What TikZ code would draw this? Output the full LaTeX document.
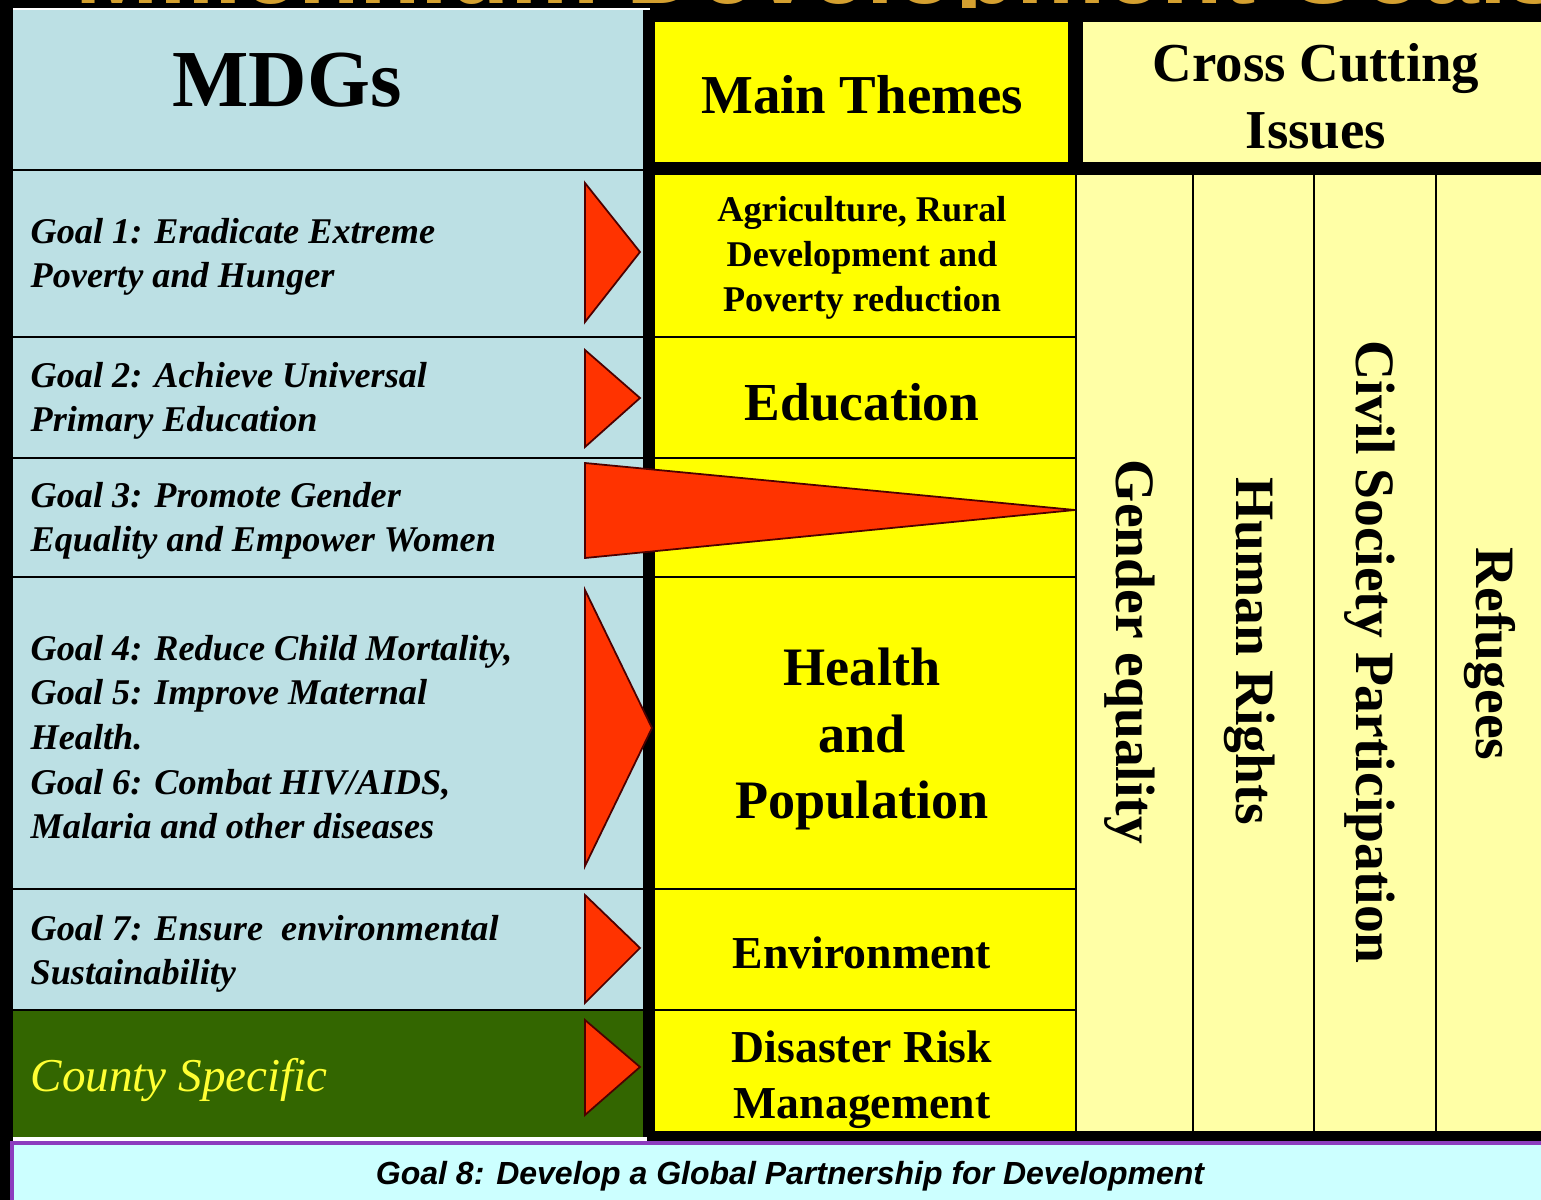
\documentclass[tikz,border=0pt]{standalone}
\usepackage{fontspec}
\setmainfont{Liberation Serif}
\newfontfamily\arialf{Liberation Sans}
\definecolor{mdgblue}{RGB}{188,224,228}
\definecolor{cgreen}{RGB}{51,102,0}
\definecolor{themeyel}{RGB}{255,255,0}
\definecolor{crossyel}{RGB}{255,255,166}
\definecolor{trired}{RGB}{255,51,0}
\definecolor{cntyel}{RGB}{255,255,51}
\definecolor{goalcyan}{RGB}{204,255,255}
\definecolor{purp}{RGB}{140,60,190}
\definecolor{gold}{RGB}{212,160,48}
\begin{document}
\begin{tikzpicture}[x=0.01cm,y=-0.01cm,
  rowline/.style={line width=0.45pt,draw=black},
  tri/.style={fill=trired,draw=black!70!red,line width=0.5pt,line join=miter},
  goaltxt/.style={anchor=west,align=left,inner sep=0pt,font=\fontsize{10.3}{12.7}\selectfont\bfseries\itshape},
  themetxt/.style={align=center,inner sep=0pt},
  crosstxt/.style={rotate=-90,inner sep=0pt,font=\fontsize{15.8}{19}\selectfont\bfseries}]
\useasboundingbox (0,0) rectangle (1541,1200);
% background
\fill[black] (0,0) rectangle (1541,1200);
% cut-off title
\begin{scope}
  \clip (0,0) rectangle (1541,8);
  \node[anchor=base west,inner sep=0pt,text=gold,font=\arialf\fontsize{28.5}{30}\selectfont\bfseries] (title) at (75,4) {Millennium Development Goals};
\end{scope}
% left panel
\fill[mdgblue] (13,10) rectangle (643,1010);
\fill[cgreen] (13,1010) rectangle (643,1137);
\draw[white,line width=0.7pt] (13,9) -- (650,9);
\fill[white] (13,1137) rectangle (647,1142);
\foreach \yy in {170,337,458,577,889,1010}
  \draw[rowline] (13,\yy) -- (643,\yy);
% headers
\fill[themeyel] (655,22) rectangle (1068,162);
\fill[crossyel] (1083,22) rectangle (1541,162);
% main theme column
\fill[themeyel] (655,175) rectangle (1076,1131);
\foreach \yy in {337,458,577,889,1010}
  \draw[rowline] (655,\yy) -- (1076,\yy);
% cross cutting columns
\fill[crossyel] (1076,175) rectangle (1541,1131);
\foreach \xx in {1076,1193,1314,1436}
  \draw[rowline] (\xx,175) -- (\xx,1131);
% bottom goal 8 band
\fill[goalcyan] (12,1143) rectangle (1541,1200);
\draw[purp,line width=0.9pt] (12,1200) -- (12,1143) -- (1541,1143);
% triangles
\draw[tri] (585,183) -- (640,252) -- (585,322) -- cycle;
\draw[tri] (585,350) -- (640,398) -- (585,447) -- cycle;
\draw[tri] (585,463) -- (1075,510) -- (585,558) -- cycle;
\draw[tri] (585,590) -- (652,728) -- (585,866) -- cycle;
\draw[tri] (585,895) -- (640,948) -- (585,1003) -- cycle;
\draw[tri] (585,1020) -- (640,1067) -- (585,1115) -- cycle;
% header texts
\node[themetxt,font=\fontsize{23}{26}\selectfont\bfseries] (mdgs) at (287,80) {MDGs};
\node[themetxt,font=\fontsize{15.6}{19}\selectfont\bfseries] (themes) at (862,95) {Main Themes};
\node[themetxt,font=\fontsize{15.6}{19}\selectfont\bfseries] (cross) at (1316,96) {Cross Cutting\\Issues};
% goal texts
\node[goaltxt] (g1) at (30,257) {Goal 1: Eradicate Extreme\\Poverty and Hunger};
\node[goaltxt] (g2) at (30,401) {Goal 2: Achieve Universal\\Primary Education};
\node[goaltxt] (g3) at (30,521) {Goal 3: Promote Gender\\Equality and Empower Women};
\node[goaltxt] (g456) at (30,737) {Goal 4: Reduce Child Mortality,\\Goal 5: Improve Maternal\\Health.\\Goal 6: Combat HIV/AIDS,\\Malaria and other diseases};
\node[goaltxt] (g7) at (30,954) {Goal 7: Ensure\ \ environmental\\Sustainability};
\node[anchor=west,inner sep=0pt,text=cntyel,font=\fontsize{13.4}{16}\selectfont\itshape] (county) at (30,1080) {County Specific};
% theme texts
\node[themetxt,font=\fontsize{10.3}{12.8}\selectfont\bfseries] (agri) at (862,258) {Agriculture, Rural\\Development and\\Poverty reduction};
\node[themetxt,font=\fontsize{15.2}{19}\selectfont\bfseries] (edu) at (862,402) {Education};
\node[themetxt,font=\fontsize{15.4}{19}\selectfont\bfseries] (health) at (862,739) {Health\\and\\Population};
\node[themetxt,font=\fontsize{13}{16}\selectfont\bfseries] (env) at (862,953) {Environment};
\node[themetxt,font=\fontsize{13}{16}\selectfont\bfseries] (drm) at (862,1080) {Disaster Risk\\Management};
% cross cutting texts
\node[crosstxt] (gender) at (1130,652) {Gender equality};
\node[crosstxt] (rights) at (1250,651) {Human Rights};
\node[crosstxt] (civil) at (1370,652) {Civil Society Participation};
\node[crosstxt] (refugees) at (1490,654) {Refugees};
% goal 8
\node[inner sep=0pt,font=\arialf\fontsize{9.1}{11}\selectfont\bfseries\itshape] (g8) at (790,1176) {Goal 8: Develop a Global Partnership for Development};
\end{tikzpicture}
\end{document}
